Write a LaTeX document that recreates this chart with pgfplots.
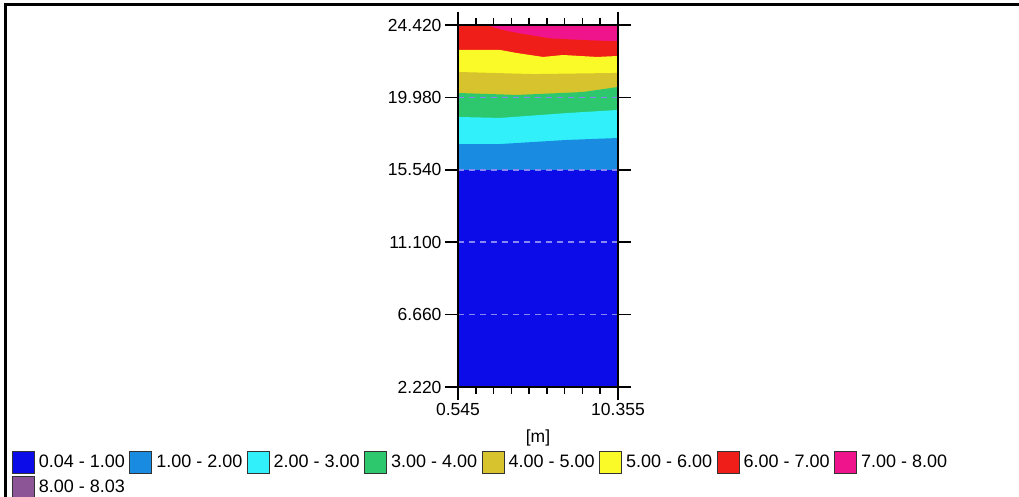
\documentclass[border=0pt]{standalone}
\usepackage{pgfplots}
\pgfplotsset{compat=1.18}
\usepackage{fontspec}
\setmainfont{Liberation Sans}
\definecolor{cA}{RGB}{12,12,232}
\definecolor{cB}{RGB}{25,140,225}
\definecolor{cC}{RGB}{50,240,250}
\definecolor{cD}{RGB}{45,200,110}
\definecolor{cE}{RGB}{215,195,45}
\definecolor{cF}{RGB}{250,250,40}
\definecolor{cG}{RGB}{240,30,25}
\definecolor{cH}{RGB}{240,20,140}
\definecolor{cI}{RGB}{140,85,150}
\definecolor{gridc}{RGB}{135,135,245}
\begin{document}
\begin{tikzpicture}
\useasboundingbox (0,0) rectangle (1019bp,497bp);
\draw[line width=3bp] (5bp,0) -- (5bp,492bp) -- (1019bp,492bp);
\begin{axis}[
  at={(458bp,110bp)}, anchor=south west, scale only axis,
  width=160bp, height=362bp,
  xmin=0.545, xmax=10.355, ymin=2.22, ymax=24.42,
  xtick={0.545,10.355}, xticklabels={0.545,10.355},
  minor xtick={1.635,2.725,3.815,4.905,5.995,7.085,8.175,9.265},
  ytick={2.22,6.66,11.1,15.54,19.98,24.42},
  yticklabels={2.220,6.660,11.100,15.540,19.980,24.420},
  /pgf/number format/assume math mode=true,
  tick align=outside, xtick pos=both, ytick pos=both,
  xticklabel pos=lower, yticklabel pos=left,
  major tick length=13bp, minor tick length=7bp,
  tick style={black, line width=1.6bp},
  minor tick style={black, line width=1.6bp},
  axis line style={line width=1.6bp},
  ymajorgrids, grid style={gridc, dash pattern=on 6bp off 5bp, line width=1.5bp},
  axis on top,
  tick label style={font=\fontsize{17.5bp}{20bp}\selectfont},
  xlabel={[m]},
  xlabel style={font=\fontsize{17.5bp}{20bp}\selectfont, at={(axis description cs:0.5,0)}, anchor=center, yshift=-51bp},
  legend columns=8,
  legend cell align=left,
  legend image code/.code={\draw[#1,draw=black!80,line width=0.8bp] (0bp,-11bp) rectangle (22bp,11bp);},
  legend style={at={(axis description cs:-2.7875,-0.1768)}, anchor=north west,
    draw=none, fill=none, inner sep=0pt, outer sep=0pt,
    font=\fontsize{18bp}{20bp}\selectfont, row sep=2bp,
    nodes={inner sep=0pt},
    /tikz/every odd column/.append style={column sep=4bp},
    /tikz/every even column/.append style={column sep=4.6bp}},
]
\addplot[fill=cH,draw=none,forget plot] coordinates {(0.545,24.42) (10.355,24.42)} \closedcycle;
\addplot[fill=cG,draw=none,forget plot] coordinates {(0.545,24.42) (2.3,24.42) (3.12,24.15) (4.35,23.9) (6.19,23.6) (8.64,23.48) (10.355,23.42)} \closedcycle;
\addplot[fill=cF,draw=none,forget plot] coordinates {(0.545,22.89) (3.12,22.89) (4.16,22.70) (5.76,22.46) (6.98,22.58) (9.07,22.46) (10.355,22.52)} \closedcycle;
\addplot[fill=cE,draw=none,forget plot] coordinates {(0.545,21.54) (5.14,21.41) (10.355,21.48)} \closedcycle;
\addplot[fill=cD,draw=none,forget plot] coordinates {(0.545,20.25) (4.16,20.13) (8.21,20.31) (10.355,20.62)} \closedcycle;
\addplot[fill=cC,draw=none,forget plot] coordinates {(0.545,18.78) (3.12,18.72) (7.23,19.02) (10.355,19.21)} \closedcycle;
\addplot[fill=cB,draw=none,forget plot] coordinates {(0.545,17.12) (3.12,17.12) (7.23,17.37) (10.355,17.49)} \closedcycle;
\addplot[fill=cA,draw=none,forget plot] coordinates {(0.545,15.54) (10.355,15.54)} \closedcycle;
\addlegendimage{fill=cA}\addlegendentry{0.04 - 1.00}
\addlegendimage{fill=cB}\addlegendentry{1.00 - 2.00}
\addlegendimage{fill=cC}\addlegendentry{2.00 - 3.00}
\addlegendimage{fill=cD}\addlegendentry{3.00 - 4.00}
\addlegendimage{fill=cE}\addlegendentry{4.00 - 5.00}
\addlegendimage{fill=cF}\addlegendentry{5.00 - 6.00}
\addlegendimage{fill=cG}\addlegendentry{6.00 - 7.00}
\addlegendimage{fill=cH}\addlegendentry{7.00 - 8.00}
\addlegendimage{fill=cI}\addlegendentry{8.00 - 8.03}
\end{axis}
\end{tikzpicture}
\end{document}
